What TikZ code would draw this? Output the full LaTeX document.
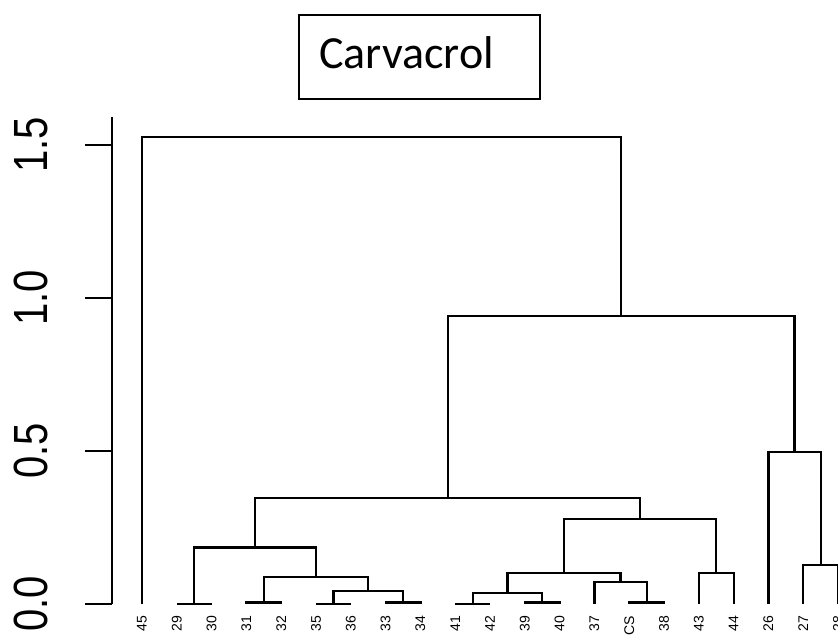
\documentclass[tikz,border=0pt]{standalone}
\usepackage{fontspec}
\setmainfont{Liberation Sans}
\newfontfamily\titlefont{Carlito}
\usetikzlibrary{calc}
\tikzset{
  dend/.style={line width=2.2pt, line join=miter},
  leaflabel/.style={rotate=90, anchor=east, inner sep=0pt, font=\fontsize{14}{14}\selectfont},
  ticklabel/.style={rotate=90, anchor=base, inner sep=0pt, font=\fontsize{40}{40}\selectfont},
}
\newcommand{\dmerge}[3]{\draw[dend] (#1) -- (#1 |- #3) -- (#2 |- #3) -- (#2);}
\begin{document}
\begin{tikzpicture}[x=1pt,y=-1pt]
\useasboundingbox[fill=white] (0,0) rectangle (838,635);
% title
\node[draw, line width=1.5pt, minimum width=241pt, minimum height=84pt, inner sep=0pt] (title) at (419.5,57) {};
\node[anchor=base west, inner sep=0pt, font=\titlefont\fontsize{46}{46}\selectfont] (titletext) at (319,68) {Carvacrol};
% axis
\coordinate (axtop) at (112,117);
\coordinate (axbot) at (112,604);
\draw[line width=2.2pt] (axtop) -- (axbot);
\foreach \v/\y in {0.0/604,0.5/451,1.0/298,1.5/145}{
  \draw[line width=2.2pt] (85,\y) -- (112,\y);
  \node[ticklabel] at (47,\y) {\scalebox{1}[1.2]{\v}};
}
% leaves
\foreach \n/\lab/\x in {l45/45/142, l29/29/176.8, l30/30/211.6, l31/31/246.4, l32/32/281.2, l35/35/316, l36/36/350.8, l33/33/385.6, l34/34/420.4, l41/41/455.2, l42/42/490, l39/39/524.8, l40/40/559.6, l37/37/594.4, lCS/CS/629.2, l38/38/664, l43/43/698.8, l44/44/733.6, l26/26/768.4, l27/27/803.2, l28/28/838}{
  \coordinate (\n) at (\x,604);
  \node[leaflabel] (t\n) at (\x,616) {\lab};
}
% merge heights
\coordinate (m2930) at (194.2,604);
\coordinate (m3132) at (263.8,602.5);
\coordinate (m3536) at (333.4,604);
\coordinate (m3334) at (403,602.5);
\coordinate (mA1) at (368.2,590.7);
\coordinate (mA2) at (316,576.7);
\coordinate (mL) at (255.1,547.5);
\coordinate (m4142) at (472.6,604);
\coordinate (m3940) at (542.2,602.5);
\coordinate (mB1) at (507.4,593.3);
\coordinate (mCS38) at (646.6,602.5);
\coordinate (mB2) at (620.5,581.7);
\coordinate (mB3) at (564,572.7);
\coordinate (m4344) at (716.2,573);
\coordinate (mR) at (640.1,519.3);
\coordinate (mB) at (447.6,498.3);
\coordinate (m2728) at (820.6,565.3);
\coordinate (mC) at (794.5,452.3);
\coordinate (mA) at (621,316);
\coordinate (mroot) at (381.5,137);
% merges
\dmerge{l29}{l30}{m2930}
\dmerge{l31}{l32}{m3132}
\dmerge{l35}{l36}{m3536}
\dmerge{l33}{l34}{m3334}
\dmerge{m3536}{m3334}{mA1}
\dmerge{m3132}{mA1}{mA2}
\dmerge{m2930}{mA2}{mL}
\dmerge{l41}{l42}{m4142}
\dmerge{l39}{l40}{m3940}
\dmerge{m4142}{m3940}{mB1}
\dmerge{lCS}{l38}{mCS38}
\dmerge{l37}{mCS38}{mB2}
\dmerge{mB1}{mB2}{mB3}
\dmerge{l43}{l44}{m4344}
\dmerge{mB3}{m4344}{mR}
\dmerge{mL}{mR}{mB}
\dmerge{l27}{l28}{m2728}
\dmerge{l26}{m2728}{mC}
\dmerge{mB}{mC}{mA}
\dmerge{l45}{mA}{mroot}
\end{tikzpicture}
\end{document}
